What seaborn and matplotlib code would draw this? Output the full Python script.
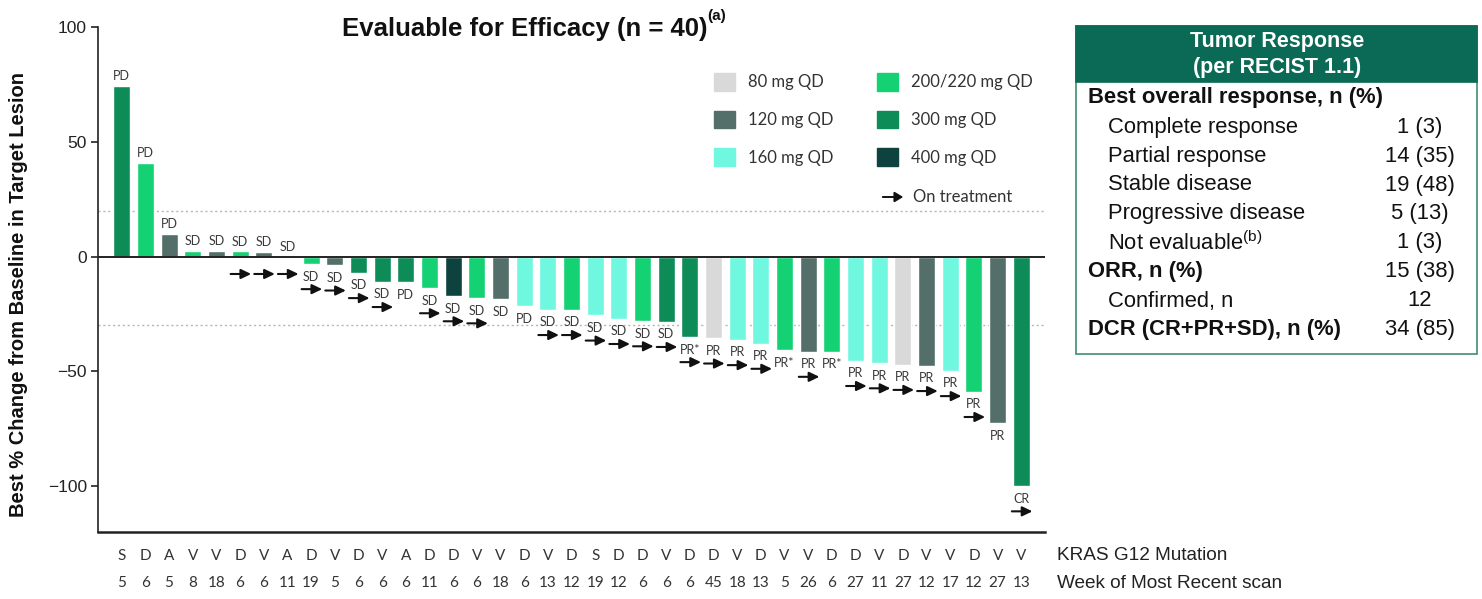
import numpy as np
import pandas as pd
import seaborn as sns
import matplotlib.pyplot as plt
from matplotlib.patches import Rectangle, Patch, FancyArrowPatch
from matplotlib.transforms import blended_transform_factory

sns.set_theme(style="white")
plt.rcParams['font.family'] = ['Liberation Sans', 'DejaVu Sans']
plt.rcParams['axes.unicode_minus'] = True

# ---- data -------------------------------------------------------------
pct_change = [74.2, 40.9, 9.7, 2.6, 2.6, 2.2, 1.9, 0.0, -3.2, -3.8,
              -7.1, -11.0, -11.3, -13.7, -17.2, -18.1, -18.7, -21.5, -23.2, -23.2,
              -25.6, -27.1, -28.1, -28.4, -35.0, -35.6, -36.3, -37.9, -40.8, -41.4,
              -41.4, -45.4, -46.4, -47.1, -47.6, -49.8, -58.9, -72.5, -100.0]
dose = ["300 mg QD", "200/220 mg QD", "120 mg QD", "200/220 mg QD", "120 mg QD",
        "200/220 mg QD", "120 mg QD", "160 mg QD", "200/220 mg QD", "120 mg QD",
        "300 mg QD", "300 mg QD", "300 mg QD", "200/220 mg QD", "400 mg QD",
        "200/220 mg QD", "120 mg QD", "160 mg QD", "160 mg QD", "200/220 mg QD",
        "160 mg QD", "160 mg QD", "200/220 mg QD", "300 mg QD", "300 mg QD",
        "80 mg QD", "160 mg QD", "160 mg QD", "200/220 mg QD", "120 mg QD",
        "200/220 mg QD", "160 mg QD", "160 mg QD", "80 mg QD", "120 mg QD",
        "160 mg QD", "200/220 mg QD", "120 mg QD", "300 mg QD"]
response = ["PD", "PD", "PD", "SD", "SD", "SD", "SD", "SD", "SD", "SD",
            "SD", "SD", "PD", "SD", "SD", "SD", "SD", "PD", "SD", "SD",
            "SD", "SD", "SD", "SD", "PR*", "PR", "PR", "PR", "PR*", "PR",
            "PR*", "PR", "PR", "PR", "PR", "PR", "PR", "PR", "CR"]
on_treatment = [0, 0, 0, 0, 0, 1, 1, 1, 1, 1,
                1, 1, 0, 1, 1, 1, 0, 0, 1, 1,
                1, 1, 1, 1, 1, 1, 1, 1, 0, 1,
                0, 1, 1, 1, 1, 1, 1, 0, 1]
mutation = ["S", "D", "A", "V", "V", "D", "V", "A", "D", "V",
            "D", "V", "A", "D", "D", "V", "V", "D", "V", "D",
            "S", "D", "D", "V", "D", "D", "V", "D", "V", "V",
            "D", "D", "V", "D", "V", "V", "D", "V", "V"]
week = [5, 6, 5, 8, 18, 6, 6, 11, 19, 5,
        6, 6, 6, 11, 6, 6, 18, 6, 13, 12,
        19, 12, 6, 6, 6, 45, 18, 13, 5, 26,
        6, 27, 11, 27, 12, 17, 12, 27, 13]

dose_order = ["80 mg QD", "120 mg QD", "160 mg QD",
              "200/220 mg QD", "300 mg QD", "400 mg QD"]
dose_colors = ["#d9d9d9", "#546f69", "#6ff8df", "#14d174", "#0e8c57", "#0d423e"]
palette = dict(zip(dose_order, dose_colors))

table_rows = [("Best overall response, n (%)", "", True, False),
              ("Complete response", "1 (3)", False, True),
              ("Partial response", "14 (35)", False, True),
              ("Stable disease", "19 (48)", False, True),
              ("Progressive disease", "5 (13)", False, True),
              ("Not evaluable$^{\\mathregular{(b)}}$", "1 (3)", False, True),
              ("ORR, n (%)", "15 (38)", True, False),
              ("Confirmed, n", "12", False, True),
              ("DCR (CR+PR+SD), n (%)", "34 (85)", True, False)]

df = pd.DataFrame({"patient": np.arange(len(pct_change)),
                   "change": pct_change, "dose": dose})

# ---- figure ------------------------------------------------------------
W, H = 1482, 599
fig = plt.figure(figsize=(W / 100, H / 100), dpi=100)


def fx(px):
    return px / W


def fy(py):
    return 1 - py / H


ax = fig.add_axes([fx(98), fy(532), fx(1045) - fx(98), fy(27) - fy(532)])
sns.barplot(data=df, x="patient", y="change", hue="dose", hue_order=dose_order,
            palette=palette, dodge=False, width=0.72, saturation=1,
            legend=False, ax=ax)

ax.set_xlim(-1, len(pct_change))
ax.set_ylim(-120, 100)
ax.set_yticks([100, 50, 0, -50, -100])
ax.tick_params(axis="y", labelsize=12.5, colors="#222222", length=5, width=1.2,
               direction="out", left=True, pad=3)
ax.set_xticks([])
ax.set_xlabel("")
ax.set_ylabel("Best % Change from Baseline in Target Lesion", fontsize=14.5,
              fontweight="bold", color="#111111")
ax.yaxis.set_label_coords(-0.074, 0.47)
for side in ("top", "right"):
    ax.spines[side].set_visible(False)
ax.spines["left"].set_color("#222222")
ax.spines["left"].set_linewidth(1.2)
ax.spines["bottom"].set_color("#222222")
ax.spines["bottom"].set_linewidth(1.8)

ax.axhline(0, color="#222222", lw=1.4, zorder=3)
for ref in (20, -30):
    ax.axhline(ref, color="#b5b5b5", lw=1.0, ls=(0, (1.5, 2)), zorder=0)

# response labels and on-treatment arrows
lab_font = dict(family=["Lato", "DejaVu Sans"], fontsize=9, color="#3a3a3a")
for i, (v, r, t) in enumerate(zip(pct_change, response, on_treatment)):
    if v >= 0:
        ax.text(i, v + 4.3, r, ha="center", va="center", **lab_font)
        arrow_y = -7.6
    else:
        ax.text(i, v - 5.5, r, ha="center", va="center", **lab_font)
        arrow_y = v - 11.0
    if t:
        ax.annotate("", xy=(i + 0.47, arrow_y), xytext=(i - 0.40, arrow_y),
                    arrowprops=dict(arrowstyle="-|>,head_length=0.5,head_width=0.24",
                                    color="#111111", lw=1.5, shrinkA=0, shrinkB=0))

# mutation / week rows under the axis
row_tf = blended_transform_factory(ax.transData, ax.transAxes)
row_font = dict(family=["Lato", "DejaVu Sans"], fontsize=11, color="#333333")
for i, (m, w) in enumerate(zip(mutation, week)):
    ax.text(i, (532 - 556) / 505, m, transform=row_tf, ha="center", va="center", **row_font)
    ax.text(i, (532 - 583) / 505, str(w), transform=row_tf, ha="center", va="center", **row_font)
fig.text(fx(1057), fy(556), "KRAS G12 Mutation", fontsize=13.7, color="#222222",
         ha="left", va="center")
fig.text(fx(1057), fy(583), "Week of Most Recent scan", fontsize=13.7, color="#222222",
         ha="left", va="center")

# title
title = fig.text(fx(525), fy(29), "Evaluable for Efficacy (n = 40)", fontsize=18.5,
                 fontweight="bold", color="#111111", ha="center", va="center")
fig.canvas.draw()
bb = title.get_window_extent()
fig.text(bb.x1 / W, fy(16), "(a)", fontsize=11, fontweight="bold",
         color="#111111", ha="left", va="center")

# dose legend
handles = [Patch(facecolor=palette[d], edgecolor=palette[d]) for d in dose_order]
ax.legend(handles, dose_order, ncol=2, frameon=False, loc="upper left",
          bbox_to_anchor=(fx(699), fy(58)), bbox_transform=fig.transFigure,
          prop=dict(family=["Lato", "DejaVu Sans"], size=12),
          handlelength=1.25, handleheight=1.25, handletextpad=0.8,
          labelspacing=1.2, columnspacing=2.6, labelcolor="#333333")
fig.patches.append(FancyArrowPatch(
    (fx(880), fy(197)), (fx(906), fy(197)), transform=fig.transFigure,
    arrowstyle="-|>,head_length=5,head_width=3", color="#111111", lw=1.4))
fig.text(fx(913), fy(197), "On treatment", family=["Lato", "DejaVu Sans"],
         fontsize=12, color="#333333", ha="left", va="center")

# tumor response table
green = "#0b6a55"
box_l, box_r, box_t, box_b, head_b = 1076, 1477, 26, 354, 82
fig.patches.append(Rectangle((fx(box_l), fy(box_b)), fx(box_r) - fx(box_l),
                             fy(box_t) - fy(box_b), transform=fig.transFigure,
                             facecolor="white", edgecolor="#3d8f74", lw=1.2))
fig.patches.append(Rectangle((fx(box_l), fy(head_b)), fx(box_r) - fx(box_l),
                             fy(box_t) - fy(head_b), transform=fig.transFigure,
                             facecolor=green, edgecolor=green, lw=1.2))
fig.text(fx(1277), fy(41), "Tumor Response", fontsize=15.5, fontweight="bold",
         color="white", ha="center", va="center")
fig.text(fx(1277), fy(67), "(per RECIST 1.1)", fontsize=15.5, fontweight="bold",
         color="white", ha="center", va="center")
row_y = 98
for label, value, bold, indent in table_rows:
    fig.text(fx(1108 if indent else 1088), fy(row_y), label, fontsize=15.8,
             fontweight="bold" if bold else "normal", color="#111111",
             ha="left", va="center")
    if value:
        fig.text(fx(1420), fy(row_y), value, fontsize=15.8, color="#111111",
                 ha="center", va="center")
    row_y += 29

fig.savefig("out.png", dpi=100)
